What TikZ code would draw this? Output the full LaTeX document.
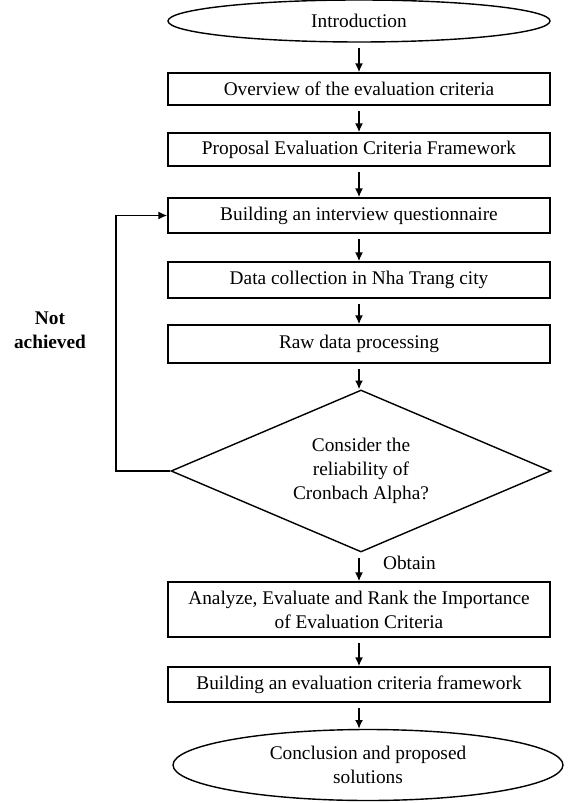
\documentclass[tikz,border=0pt]{standalone}
\usepackage{fontspec}
\setmainfont{Liberation Serif}
\usetikzlibrary{arrows.meta,shapes.geometric,positioning}

\tikzset{
  stepbox/.style={draw,line width=0.9pt,minimum width=7.64cm,inner sep=0pt,align=center},
  terminal/.style={draw,ellipse,line width=0.8pt,inner sep=0pt,align=center},
  decision/.style={draw,diamond,aspect=2.35,line width=0.8pt,inner sep=0pt,align=center},
  arr/.style={-{Latex[length=5pt,width=4.5pt]},line width=0.8pt,shorten <=3pt}
}

\begin{document}
\begin{tikzpicture}[font=\fontsize{11}{13.6}\selectfont]
  \useasboundingbox (0,0) rectangle (11.34,-16.06);
  % main column
  \node[terminal,minimum width=7.64cm,minimum height=0.84cm] (intro) at (7.18,-0.42) {Introduction};
  \node[stepbox,minimum height=0.64cm] (b1) at (7.18,-1.78) {Overview of the evaluation criteria};
  \node[stepbox,minimum height=0.66cm] (b2) at (7.18,-2.99) {Proposal Evaluation Criteria Framework};
  \node[stepbox,minimum height=0.70cm] (b3) at (7.18,-4.31) {Building an interview questionnaire};
  \node[stepbox,minimum height=0.72cm] (b4) at (7.18,-5.60) {Data collection in Nha Trang city};
  \node[stepbox,minimum height=0.76cm] (b5) at (7.18,-6.88) {Raw data processing};
  \node[decision,minimum width=7.6cm,minimum height=3.24cm] (dec) at (7.22,-9.42)
     {Consider the\\ reliability of\\ Cronbach Alpha?};
  \node[stepbox,minimum height=1.10cm] (b6) at (7.18,-12.19)
     {Analyze, Evaluate and Rank the Importance\\ of Evaluation Criteria};
  \node[stepbox,minimum height=0.70cm] (b7) at (7.18,-13.69) {Building an evaluation criteria framework};
  \node[terminal,minimum width=7.8cm,minimum height=1.42cm] (concl) at (7.36,-15.30)
     {Conclusion and proposed\\ solutions};
  % labels
  \node[font=\fontsize{11}{13.6}\selectfont\bfseries,align=center] (nach) at (1.0,-6.61) {Not\\ achieved};
  \node[anchor=west,inner sep=1pt] (obt) at (7.62,-11.26) {Obtain};
  \coordinate (bend) at (2.32,-6.6);
  % arrows
  \draw[arr] (intro) -- (b1);
  \draw[arr] (b1) -- (b2);
  \draw[arr] (b2) -- (b3);
  \draw[arr] (b3) -- (b4);
  \draw[arr] (b4) -- (b5);
  \draw[arr] (b5.south) -- (b5.south |- dec.north);
  \draw[arr] (dec.south -| b6.north) -- (b6.north);
  \draw[arr] (b6) -- (b7);
  \draw[arr] (b7.south) -- (b7.south |- concl.north);
  \draw[arr,shorten <=0pt] (dec.west) -| (bend) |- (b3.west);
\end{tikzpicture}
\end{document}
